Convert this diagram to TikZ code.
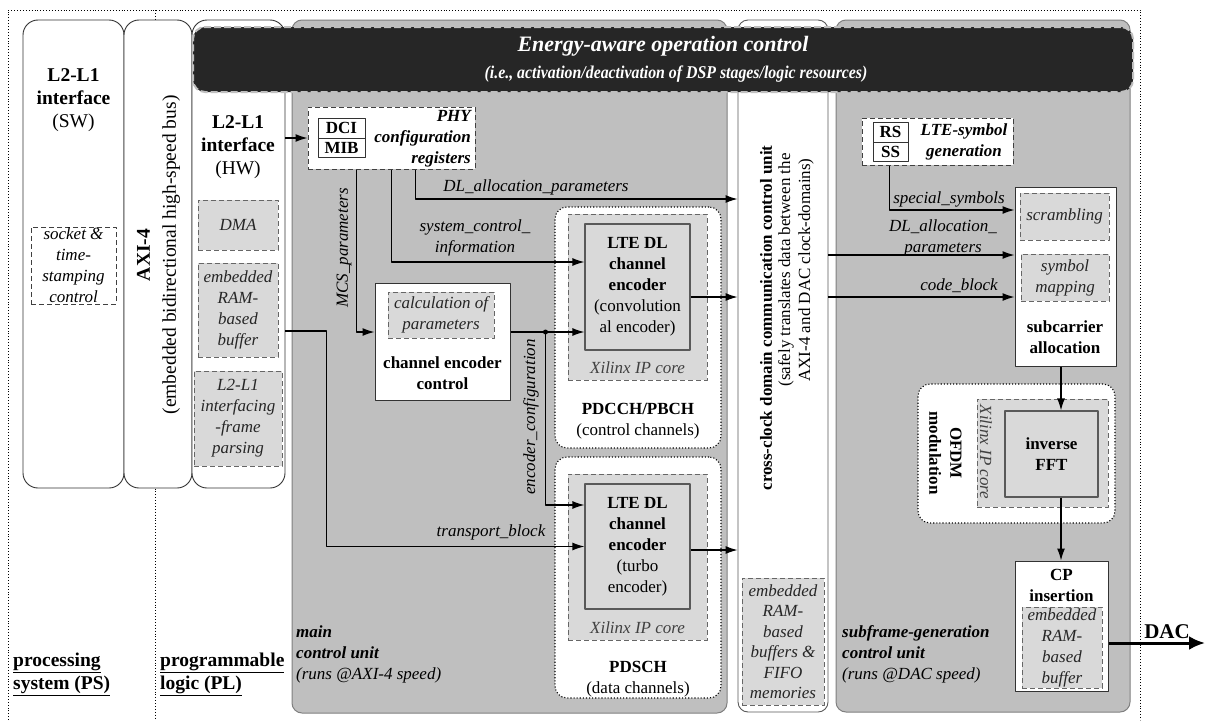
\documentclass[tikz,border=0pt]{standalone}
\usepackage{fontspec}
\usepackage{graphicx}
\setmainfont{Liberation Serif}
\usetikzlibrary{arrows.meta,calc}
\definecolor{bgray}{HTML}{BFBFBF}
\definecolor{lgray}{HTML}{D9D9D9}
\definecolor{dgray}{HTML}{262626}
\definecolor{edge}{HTML}{595959}
\newcommand{\fsA}{\fontsize{17}{21}\selectfont}
\newcommand{\fsT}{\fontsize{19.5}{23}\selectfont}
\begin{document}
\begin{tikzpicture}[x=1pt, y=-1pt, font=\fsA, line join=round,
  wh/.style 2 args={minimum width=#1pt, minimum height=#2pt},
  arr/.style={draw, line width=1.2pt, -{Latex[length=12pt,width=8pt]}},
  lane/.style={draw=black!80, fill=white, rounded corners=15pt, line width=0.9pt, inner sep=0pt},
  unitbox/.style={draw=black!50, fill=bgray, rounded corners=10pt, line width=1pt, inner sep=0pt},
  gdash/.style={draw=black!60, dash pattern=on 5pt off 3pt, fill=lgray, line width=1pt, inner sep=0pt, align=center, font=\fsA\itshape, text=black!85},
  wdash/.style={draw=black!75, dash pattern=on 5pt off 3pt, fill=white, line width=1pt, inner sep=0pt, align=center, font=\fsA\itshape},
  core/.style={draw=edge, fill=lgray, line width=1.2pt, inner sep=0pt, align=center},
  wbox/.style={draw=black!80, fill=white, line width=1pt, inner sep=0pt, align=center},
  grp/.style={draw=black, dotted, line width=1.1pt, fill=white, rounded corners=12pt, inner sep=0pt},
  txt/.style={inner sep=0pt, align=center}]
\useasboundingbox (0,0) rectangle (1206,720);
\fill[white] (0,0) rectangle (1206,720);

% outer dotted frame
\coordinate (o1) at (8,720); \coordinate (o2) at (8,10);
\coordinate (o3) at (1140,10); \coordinate (o4) at (1140,720);
\draw[dotted, line width=0.9pt] (o1) -- (o2) -- (o3) -- (o4);
\coordinate (d1) at (155,10); \coordinate (d2) at (155,720);
\draw[dotted, line width=0.9pt] (d1) -- (d2);

% lanes
\node[lane, wh={101}{468}] (sw) at (73.5,254) {};
\node[lane, wh={68}{468}] (axi) at (158,254) {};
\node[lane, wh={93}{468}] (hw) at (238.5,254) {};

% units
\node[unitbox, wh={435}{693}] (mainu) at (509.5,366.5) {};
\node[lane, draw=edge, rounded corners=10pt, wh={90}{692}] (cc) at (783,366) {};
\node[unitbox, wh={294}{692}] (sfu) at (983,366) {};

% banner
\node[draw=bgray, fill=dgray, dash pattern=on 7pt off 3pt, line width=2pt, rounded corners=12pt, wh={940}{65}] (ban) at (663,59.5) {};
\node[txt, text=white, font=\fontsize{22}{26}\selectfont\bfseries\itshape] (ban1) at (663,46) {Energy-aware operation control};
\node[txt, text=white] (ban2) at (676,74) {\scalebox{0.88}[1]{\fontsize{18}{21}\selectfont\bfseries\itshape (i.e., activation/deactivation of DSP stages/logic resources)}};

% SW lane
\node[txt, font=\fsT] (swt) at (73.5,100) {\textbf{L2-L1}\\\textbf{interface}\\(SW)};
\node[wdash, wh={85}{77}] (sock) at (73.5,265.5) {socket \&\\time-\\stamping\\control};

% AXI lane
\node[txt, rotate=90, font=\fontsize{19.5}{26}\selectfont] (axit) at (158.5,255) {\textbf{AXI-4}\\(embedded bidirectional high-speed bus)};

% HW lane
\node[txt, font=\fsT] (hwt) at (238,147) {\textbf{L2-L1}\\\textbf{interface}\\(HW)};
\node[gdash, wh={80}{50}] (dma) at (238,225) {DMA};
\node[gdash, wh={80}{94}] (ram1) at (238,310) {embedded\\RAM-\\based\\buffer};
\node[gdash, wh={88}{95}] (parse) at (238,418.5) {L2-L1\\interfacing\\-frame\\parsing};

% PHY configuration registers
\node[wdash, wh={167}{62}] (phy) at (391.5,138) {};
\node[wbox, wh={47}{20}, font=\fsA\bfseries] (dci) at (341.5,128) {DCI};
\node[wbox, wh={47}{19}, font=\fsA\bfseries] (mib) at (341.5,147.5) {MIB};
\node[txt, anchor=east, align=right, font=\fsA\bfseries\itshape] (phyt) at (471,138.5) {PHY\\configuration\\registers};

% channel encoder control
\node[wbox, wh={135}{117}] (cec) at (442.5,341.5) {};
\node[gdash, wh={106}{46}] (calc) at (441,315) {calculation of\\parameters};
\node[txt, font=\fsA\bfseries] (cect) at (442.5,373) {channel encoder\\control};

% PDCCH/PBCH
\node[grp, wh={166}{241}] (pdcch) at (638,327.5) {};
\node[gdash, wh={139}{166}] (ip1) at (637.5,297) {};
\node[core, wh={105}{126}] (conv) at (637.5,287) {\textbf{LTE DL}\\\textbf{channel}\\\textbf{encoder}\\(convolution\\al encoder)};
\node[txt, font=\fsA\itshape, text=black!75] (ip1t) at (637.5,368) {Xilinx IP core};
\node[txt] (pdccht) at (638,421) {\textbf{PDCCH/PBCH}\\(control channels)};

% PDSCH
\node[grp, wh={166}{241}] (pdsch) at (638,577.5) {};
\node[gdash, wh={139}{166}] (ip2) at (637.5,557) {};
\node[core, wh={105}{125}] (turbo) at (637.5,546.5) {\textbf{LTE DL}\\\textbf{channel}\\\textbf{encoder}\\(turbo\\encoder)};
\node[txt, font=\fsA\itshape, text=black!75] (ip2t) at (637.5,628) {Xilinx IP core};
\node[txt] (pdscht) at (638,679) {\textbf{PDSCH}\\(data channels)};

% main unit label
\node[txt, anchor=west, align=left] (mainl) at (296,654) {\textbf{\textit{main}}\\\textbf{\textit{control unit}}\\\textit{(runs @AXI-4 speed)}};

% cross-clock unit
\node[txt, rotate=90, font=\fsA\bfseries] (cct1) at (766,318) {cross-clock domain communication control unit};
\node[txt, rotate=90, font=\fontsize{17}{20}\selectfont] (cct2) at (796,270) {(safely translates data between the\\AXI-4 and DAC clock-domains)};
\node[gdash, wh={82}{127}, font=\fontsize{17}{20.5}\selectfont\itshape] (ram2) at (783,641.5) {embedded\\RAM-\\based\\buffers \&\\FIFO\\memories};

% subframe unit
\node[wdash, wh={151}{47}] (ltes) at (937.5,141.5) {};
\node[wbox, wh={35}{20}, font=\fsA\bfseries] (rs) at (890.5,132) {RS};
\node[wbox, wh={35}{19}, font=\fsA\bfseries] (ss) at (890.5,151.5) {SS};
\node[txt, font=\fsA\bfseries\itshape] (ltest) at (964,142) {LTE-symbol\\generation};

\node[wbox, wh={101}{179}] (sub) at (1065.5,276.5) {};
\node[gdash, wh={89}{47}] (scr) at (1064.5,216.5) {scrambling};
\node[gdash, wh={88}{47}] (map) at (1065,277.5) {symbol\\mapping};
\node[txt, font=\fsA\bfseries] (subt) at (1065,337.5) {subcarrier\\allocation};

\node[grp, wh={197}{139}] (ofdm) at (1016.5,453.5) {};
\node[gdash, wh={131}{108}] (ip3) at (1042.5,453) {};
\node[core, wh={93}{86}, font=\fsA\bfseries] (ifft) at (1051.5,454) {inverse\\FFT};
\node[txt, rotate=-90, font=\fsA\itshape, text=black!75] (ip3t) at (986,452) {Xilinx IP core};
\node[txt, rotate=-90, font=\fsA\bfseries] (ofdmt) at (945.5,453) {OFDM\\modulation};

\node[wbox, wh={93}{130}] (cp) at (1061.5,626) {};
\node[txt, font=\fsA\bfseries] (cpt) at (1061.5,585) {CP\\insertion};
\node[gdash, wh={80}{81}] (ram3) at (1062,647.5) {embedded\\RAM-\\based\\buffer};

\node[txt, anchor=west, align=left] (sfl) at (842,654) {\textbf{\textit{subframe-generation}}\\\textbf{\textit{control unit}}\\\textit{(runs @DAC speed)}};

% PS / PL labels
\node[txt, anchor=west, align=left, font=\fsT\bfseries] (psl) at (13,674.5) {\underline{processing}\\\underline{system (PS)}};
\node[txt, anchor=west, align=left, font=\fsT\bfseries] (pll) at (160,674.5) {\underline{programmable}\\\underline{logic (PL)}};

% connectors (main unit)
\draw[arr] (hw.east |- phy.west) -- (phy.west);
\draw[arr] ([xshift=49pt]phy.south west) |- ([yshift=9.5pt]cec.west);
\node[txt, rotate=90, font=\fsA\itshape] (mcsl) at (344,248) {MCS\_parameters};
\draw[arr] ([xshift=84pt]phy.south west) |- ([yshift=25pt]conv.west);
\node[txt, font=\fsA\itshape] (scil) at (475,238) {system\_control\_\\information};
\draw[arr] ([xshift=108pt]phy.south west) |- ([yshift=167pt]cc.west);
\node[txt, font=\fsA\itshape] (dll1) at (536,187) {DL\_allocation\_parameters};

\coordinate (j) at ($([yshift=9.5pt]cec.east)+(35,0)$);
\draw[arr] ([yshift=9.5pt]cec.east) -- ([yshift=-45pt]conv.west);
\fill (j) circle (2.5pt);
\draw[arr] (j) |- ([yshift=41.5pt]turbo.west);
\node[txt, rotate=90, font=\fsA\itshape] (ecl) at (531,417) {encoder\_configuration};

\draw[arr] ([yshift=-77pt]hw.east) -- ++(41,0) |- (turbo.west);
\node[txt, font=\fsA\itshape] (tbl) at (491,532) {transport\_block};

\coordinate (co1) at ([yshift=-10pt]conv.east);
\draw[arr] (co1) -- (co1 -| cc.west);
\coordinate (co2) at ([yshift=-3.5pt]turbo.east);
\draw[arr] (co2) -- (co2 -| cc.west);

% connectors (subframe unit)
\coordinate (ci1) at ([yshift=111pt]cc.east);
\draw[arr] (ci1) -- (ci1 -| sub.west);
\coordinate (ci2) at ([yshift=69pt]cc.east);
\draw[arr] (ci2) -- (ci2 -| sub.west);
\draw[arr] ([xshift=28pt]ltes.south west) |- ([yshift=66.5pt]sub.west);
\node[txt, font=\fsA\itshape] (ssl) at (949,199) {special\_symbols};
\node[txt, font=\fsA\itshape] (dll2) at (943,237.5) {DL\_allocation\_\\parameters};
\node[txt, font=\fsA\itshape] (cbl) at (959,286) {code\_block};

\coordinate (a1) at ([xshift=-4.5pt]sub.south);
\draw[arr] (a1) -- (a1 |- ifft.north);
\draw[arr] (a1 |- ifft.south) -- (a1 |- cp.north);

\coordinate (dacs) at ([yshift=-17pt]cp.east);
\coordinate (dace) at (1205,643);
\draw[line width=3pt, -{Latex[length=16pt,width=14pt]}] (dacs) -- (dace);
\node[txt, font=\fontsize{21}{24}\selectfont\bfseries] (dacl) at (1167,632) {DAC};
\end{tikzpicture}
\end{document}
